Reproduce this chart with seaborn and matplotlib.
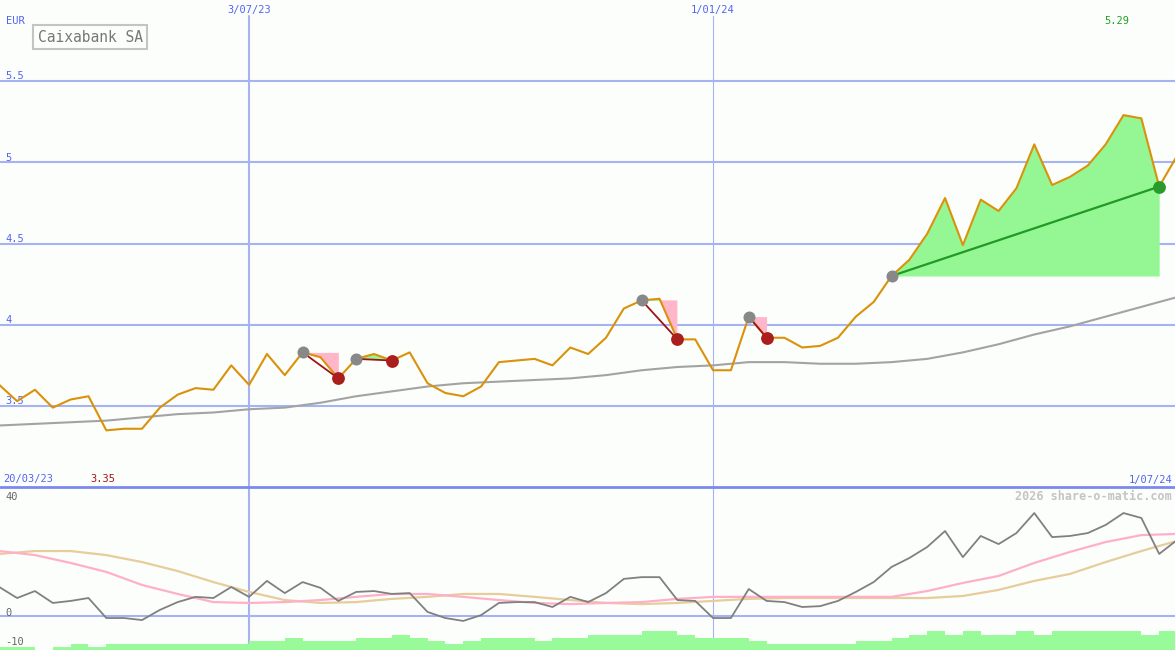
import numpy as np
import pandas as pd
import matplotlib
matplotlib.use("Agg")
import matplotlib.pyplot as plt
import matplotlib.dates as mdates
import seaborn as sns

# ------------------------------------------------------------
# data (weekly)
# ------------------------------------------------------------
weeks = pd.date_range("2023-03-27", periods=67, freq="7D")

price = [3.63, 3.53, 3.60, 3.49, 3.54, 3.56, 3.35, 3.36, 3.36, 3.49,
         3.57, 3.61, 3.60, 3.75, 3.63, 3.82, 3.69, 3.83, 3.80, 3.67,
         3.79, 3.82, 3.78, 3.83, 3.64, 3.58, 3.56, 3.62, 3.77, 3.78,
         3.79, 3.75, 3.86, 3.82, 3.92, 4.10, 4.15, 4.16, 3.91, 3.91,
         3.72, 3.72, 4.05, 3.92, 3.92, 3.86, 3.87, 3.92, 4.05, 4.14,
         4.30, 4.40, 4.56, 4.78, 4.49, 4.77, 4.70, 4.84, 5.11, 4.86,
         4.91, 4.98, 5.11, 5.29, 5.27, 4.85, 5.04]

# long moving average, read every second week
ma_long = [3.38, 3.39, 3.40, 3.41, 3.43, 3.45, 3.46, 3.48, 3.49, 3.52,
           3.56, 3.59, 3.62, 3.64, 3.65, 3.66, 3.67, 3.69, 3.72, 3.74,
           3.75, 3.77, 3.77, 3.76, 3.76, 3.77, 3.79, 3.83, 3.88, 3.94,
           3.99, 4.05, 4.11, 4.17]

# indicator panel
osc = [10.0, 6.2, 8.6, 4.5, 5.2, 6.2, -0.7, -0.7, -1.4, 2.1,
       4.8, 6.6, 6.2, 10.0, 6.6, 12.1, 7.9, 11.7, 9.7, 5.2,
       8.3, 8.6, 7.6, 7.9, 1.4, -0.7, -1.7, 0.3, 4.5, 4.8,
       4.8, 3.1, 6.6, 4.8, 7.9, 12.8, 13.4, 13.4, 5.5, 5.2,
       -0.7, -0.7, 9.3, 5.2, 4.8, 3.1, 3.4, 5.2, 8.3, 11.7,
       16.9, 20.0, 23.8, 29.3, 20.3, 27.6, 24.8, 28.6, 35.5, 27.2,
       27.6, 28.6, 31.4, 35.5, 33.8, 21.4, 26.2]

osc_fast = [22.4, 21.0, 18.3, 15.2, 10.7, 7.6, 4.8, 4.5, 4.8, 5.5,
            6.6, 7.6, 7.6, 6.6, 5.5, 4.5, 4.1, 4.5, 4.8, 5.9,
            6.6, 6.6, 6.6, 6.6, 6.6, 6.6, 8.6, 11.4, 13.8, 18.3,
            22.1, 25.5, 27.9, 28.3]

osc_slow = [21.4, 22.4, 22.4, 21.0, 18.6, 15.5, 11.7, 8.3, 5.5, 4.5,
            4.8, 5.9, 6.6, 7.6, 7.6, 6.6, 5.5, 4.5, 4.1, 4.5,
            5.2, 5.9, 6.2, 6.2, 6.2, 6.2, 6.2, 6.9, 9.0, 12.1,
            14.5, 18.6, 22.4, 25.9]

# relative volume level per week
volume = [1, 1, 0, 1, 2, 1, 2, 2, 2, 2,
          2, 2, 2, 2, 3, 3, 4, 3, 3, 3,
          4, 4, 5, 4, 3, 2, 3, 4, 4, 4,
          3, 4, 4, 5, 5, 5, 6, 6, 5, 4,
          4, 4, 3, 2, 2, 2, 2, 2, 3, 3,
          4, 5, 6, 5, 6, 5, 5, 6, 5, 6,
          6, 6, 6, 6, 5, 6, 6]

# trades: (entry week, exit week)
trades = [(17, 19), (20, 22), (36, 38), (42, 43), (50, 65)]

price_ticks = [5.5, 5, 4.5, 4, 3.5]
osc_ticks = [40, 0, -10]
marker_dates = [pd.Timestamp("2023-07-03"), pd.Timestamp("2024-01-01")]
marker_labels = ["3/07/23", "1/01/24"]

# ------------------------------------------------------------
# styling
# ------------------------------------------------------------
BG = "#fcfefc"
GRID = "#a6b3f2"
SEP = "#7b89ee"
BLUE = "#5464f2"
PRICE = "#d9920a"
FS = 7.5

sns.set_style("white")
plt.rcParams["font.family"] = ["DejaVu Sans Mono"]

W, H = 1175, 650
fig = plt.figure(figsize=(W / 100, H / 100), dpi=100, facecolor=BG)
ax = fig.add_axes([0, 163 / H, 1, 487 / H])
axb = fig.add_axes([0, 0, 1, 163 / H])

x_left = weeks[0] + pd.Timedelta(hours=7)
x_right = weeks[0] + pd.Timedelta(days=461.2)


def px_text(x, y, s, **kw):
    fig.text(x / W, 1 - y / H, s, **kw)


def dnum(d):
    return mdates.date2num(d)


# ---------------- price panel ----------------
for p in price_ticks:
    ax.axhline(p, color=GRID, lw=1.5, zorder=1)
    ax.text(5 / W, p - 0.002, f"{p:g}", transform=ax.get_yaxis_transform(),
            color=BLUE, fontsize=FS, va="bottom", ha="left")

ax.axvline(marker_dates[0], ymax=1 - 16 / 487, color=GRID, lw=1.5, zorder=1)
ax.axvline(marker_dates[1], ymax=1 - 16 / 487, color=GRID, lw=0.8, zorder=1)
for d, lab in zip(marker_dates, marker_labels):
    ax.text(dnum(d), 1 - 10 / 487, lab, transform=ax.get_xaxis_transform(),
            color=BLUE, fontsize=FS, ha="center", va="center")

sns.lineplot(x=weeks[::2], y=ma_long, ax=ax, color="#a3a3a3", lw=1.5, zorder=2)

price_arr = np.array(price)
for a, b in trades:
    xs = weeks[a:b + 1]
    ps = price_arr[a:b + 1]
    entry = price[a]
    ax.fill_between(xs, ps, entry, where=ps >= entry, interpolate=True,
                    color="#94f794", lw=0, zorder=3)
    ax.fill_between(xs, ps, entry, where=ps <= entry, interpolate=True,
                    color="#ffb6c8", lw=0, zorder=3)

sns.lineplot(x=weeks, y=price, ax=ax, color=PRICE, lw=1.5, zorder=4)

for a, b in trades:
    win = price[b] > price[a]
    ax.plot([weeks[a], weeks[b]], [price[a], price[b]],
            color="#229922" if win else "#9c1414", lw=1.6 if win else 1.3, zorder=5)
    ax.scatter([weeks[a]], [price[a]], s=75, color="#888888", lw=0, zorder=6)
    ax.scatter([weeks[b]], [price[b]], s=85, lw=0, zorder=6,
               color="#2a9a2a" if win else "#aa1e1e")

i_max = int(np.argmax(price))
i_min = int(np.argmin(price))
ax.annotate(f"{price[i_max]:.2f}", xy=(dnum(weeks[i_max]), 1 - 21 / 487),
            xycoords=ax.get_xaxis_transform(), xytext=(-7, 0),
            textcoords="offset pixels", color="#22a022", fontsize=FS,
            ha="center", va="center")
ax.annotate(f"{price[i_min]:.2f}", xy=(dnum(weeks[i_min]), 8 / 487),
            xycoords=ax.get_xaxis_transform(), xytext=(-3, 0),
            textcoords="offset pixels", color="#a01818", fontsize=FS,
            ha="center", va="center")

ax.set_xlim(x_left, x_right)
ax.set_ylim(5.5 - 406 / 162.5, 5.5 + 81 / 162.5)
ax.set_axis_off()

# ---------------- indicator panel ----------------
axb.axhline(0, color=GRID, lw=1.5, zorder=1)
axb.axvline(marker_dates[0], color=GRID, lw=1.5, zorder=1)
axb.axvline(marker_dates[1], color=GRID, lw=0.8, zorder=1)
for v in osc_ticks:
    axb.text(5 / W, v - 0.7, f"{v:g}", transform=axb.get_yaxis_transform(),
             color="#666666", fontsize=FS, va="bottom", ha="left")

sns.lineplot(x=weeks[::2], y=osc_slow, ax=axb, color="#e6cd9b", lw=1.6, zorder=2)
sns.lineplot(x=weeks[::2], y=osc_fast, ax=axb, color="#ffb0c8", lw=1.6, zorder=3)
sns.lineplot(x=weeks, y=osc, ax=axb, color="#808080", lw=1.3, zorder=4)

axb.set_xlim(x_left, x_right)
axb.set_ylim((616 - 650) / 2.9, (616 - 487) / 2.9)
axb.set_axis_off()

axv = axb.twinx()
axv.bar(weeks, volume, width=7, align="edge", color="#98fa98", lw=0)
axv.set_xlim(x_left, x_right)
axv.set_ylim(0, 163 / 3.1)
axv.set_axis_off()

# panel separator
fig.add_artist(plt.Line2D([0, 1], [163 / H, 163 / H], transform=fig.transFigure,
                          color=SEP, lw=2))

# ---------------- texts ----------------
px_text(6, 21, "EUR", color=BLUE, fontsize=FS, va="center", ha="left")
px_text(90, 37, "Caixabank SA", color="#777777", fontsize=10.5, va="center",
        ha="center", bbox=dict(boxstyle="square,pad=0.3", fc="none",
                               ec="#c4c4c4", lw=1.5))
px_text(3, 479, "20/03/23", color=BLUE, fontsize=FS, va="center", ha="left")
px_text(1172, 480, "1/07/24", color=BLUE, fontsize=FS, va="center", ha="right")
px_text(1172, 496, "2026 share-o-matic.com", color="#c4c4c4", fontsize=8.5,
        fontweight="bold", va="center", ha="right")

fig.savefig("out.png", dpi=100, facecolor=BG)
